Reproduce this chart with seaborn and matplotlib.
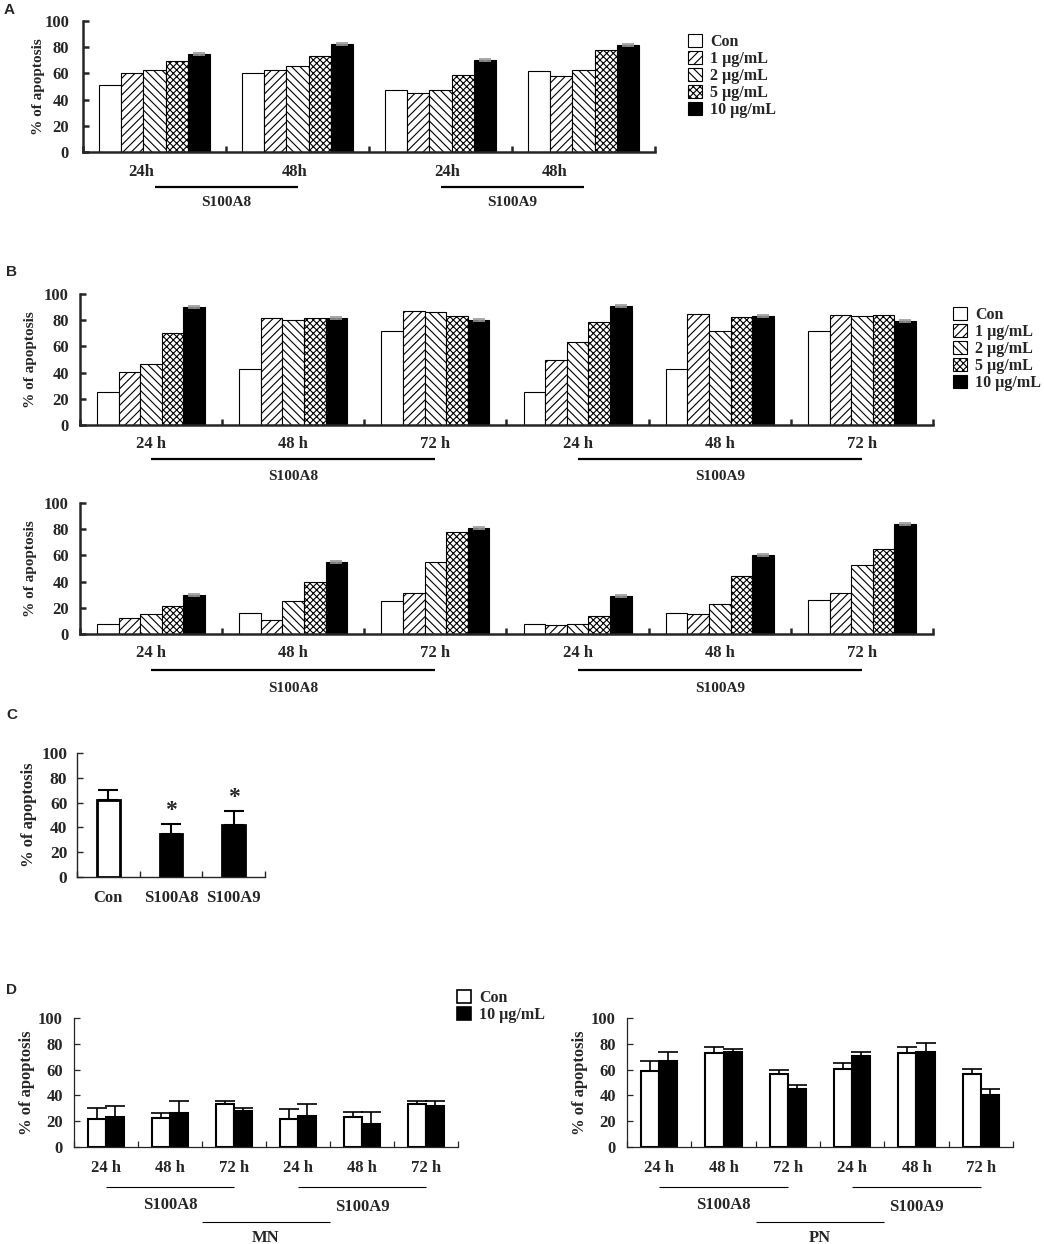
import matplotlib.pyplot as plt
import matplotlib.patches as mpatches
import numpy as np
import pandas as pd
import seaborn as sns

# ---- values ----
conc_labels = ['Con', '1 µg/mL', '2 µg/mL', '5 µg/mL', '10 µg/mL']
conc_colors = ['white', 'white', 'white', 'white', 'black']
conc_hatches = ['', '////', '\\\\\\\\', 'xxxxx', '']

# A: S100A8 24h/48h, S100A9 24h/48h
groups_a = ['S100A8 24h', 'S100A8 48h', 'S100A9 24h', 'S100A9 48h']
ticks_a = ['24h', '48h', '24h', '48h']
a_con = [51, 60.5, 47.5, 61.5]
a_1 = [60.5, 62.5, 45, 58]
a_2 = [62.5, 65.5, 47.5, 62.5]
a_5 = [69.5, 73, 58.5, 78]
a_10 = [74.5, 82.5, 70.5, 82]
a_err10 = [0.8, 0.8, 0.8, 0.8]

# B (upper and lower): S100A8 24/48/72 h, S100A9 24/48/72 h
groups_b = ['S100A8 24 h', 'S100A8 48 h', 'S100A8 72 h',
            'S100A9 24 h', 'S100A9 48 h', 'S100A9 72 h']
ticks_b = ['24 h', '48 h', '72 h', '24 h', '48 h', '72 h']
b1_con = [25.5, 42.5, 72, 25.5, 42.5, 72]
b1_1 = [40.5, 81.5, 87, 49.5, 84.5, 84]
b1_2 = [46.5, 80, 86.5, 63, 72, 83.5]
b1_5 = [70, 81.5, 83.5, 79, 82.5, 84]
b1_10 = [90, 81.5, 80, 90.5, 83, 79.5]
b1_err10 = [0.8] * 6

b2_con = [7.7, 16.3, 25.5, 7.7, 16.3, 26]
b2_1 = [12.5, 10.7, 31.4, 6.9, 15, 31.3]
b2_2 = [15.5, 25.5, 54.8, 7.9, 23.2, 52.7]
b2_5 = [21, 39.7, 77.5, 14, 44.4, 65]
b2_10 = [29.8, 54.8, 81, 29.2, 60.3, 84]
b2_err10 = [0.8] * 6

# C
cats_c = ['Con', 'S100A8', 'S100A9']
vals_c = [62, 34.3, 42]
err_c = [8, 8.4, 11.3]
colors_c = ['white', 'black', 'black']

# D (MN left, PN right)
d_labels = ['Con', '10 µg/mL']
d_colors = ['white', 'black']
mn_con = [22, 22.6, 33.2, 22, 23.4, 33.2]
mn_con_err = [8.3, 3.9, 2.6, 7.5, 3.9, 2.6]
mn_10 = [22.9, 26, 28, 24.2, 18.2, 31.9]
mn_10_err = [8.8, 9.8, 2.4, 8.8, 9.1, 3.9]
pn_con = [59, 72.6, 56.4, 60.3, 72.6, 56.4]
pn_con_err = [7.7, 4.8, 3.1, 5.1, 4.8, 3.9]
pn_10 = [66.7, 73.6, 44.9, 70.5, 73.8, 40.5]
pn_10_err = [6.9, 2, 3, 3.1, 7, 4.4]

W, H = 1044, 1244

sns.set_theme(style='ticks')
plt.rcParams['font.family'] = ['Liberation Serif', 'DejaVu Serif']
plt.rcParams['font.weight'] = 'bold'
plt.rcParams['axes.labelweight'] = 'bold'
plt.rcParams['hatch.linewidth'] = 0.8
plt.rcParams['hatch.color'] = 'black'

fig = plt.figure(figsize=(W / 100, H / 100), dpi=100)


def add_axes(l, r, t, b):
    ax = fig.add_axes([l / W, 1 - b / H, (r - l) / W, (b - t) / H])
    ax._px = (l, r, t, b)
    return ax


def yfrac(ax, ypx):
    l, r, t, b = ax._px
    return (b - ypx) / (b - t)


def style_axes(ax, n, lw, ylab_right, ylab_size, tick_size, tick_pad, tick_len):
    l, r, t, b = ax._px
    sns.despine(ax=ax)
    for s in ['left', 'bottom']:
        ax.spines[s].set_linewidth(lw)
    ax.set_xlim(-0.5, n - 0.5)
    ax.set_ylim(0, 100)
    ax.set_yticks(range(0, 101, 20))
    ax.set_xticks(np.arange(n + 1) - 0.5)
    ax.set_xticklabels([])
    ax.set_xlabel('')
    ax.tick_params(axis='y', direction='in', length=tick_len, width=lw,
                   labelsize=tick_size, pad=tick_pad)
    ax.tick_params(axis='x', direction='in', length=tick_len, width=lw)
    for lab in ax.get_yticklabels():
        lab.set_fontweight('bold')
    ax.set_ylabel('% of apoptosis', fontsize=ylab_size, fontweight='bold')
    ax.yaxis.set_label_coords((ylab_right - l) / (r - l), 0.5)


def conc_panel(ax, groups, series, err10, width):
    rows = []
    for c, vals in zip(conc_labels, series):
        for g, v in zip(groups, vals):
            rows.append({'group': g, 'conc': c, 'value': v})
    df = pd.DataFrame(rows)
    sns.barplot(data=df, x='group', y='value', hue='conc', order=groups,
                hue_order=conc_labels, palette=dict(zip(conc_labels, conc_colors)),
                saturation=1, edgecolor='black', linewidth=0.8, width=width,
                errorbar=None, legend=False, ax=ax)
    for cont, hatch in zip(ax.containers, conc_hatches):
        for p in cont:
            p.set_hatch(hatch)
    last = ax.containers[-1]
    xs = [p.get_x() + p.get_width() / 2 for p in last]
    ys = [p.get_height() for p in last]
    ax.errorbar(xs, ys, yerr=err10, fmt='none', ecolor='0.6', elinewidth=1,
                capsize=4, capthick=1.2, zorder=5)


def bracket(ax, x0, x1, ypx, lw):
    tr = ax.get_xaxis_transform()
    y = yfrac(ax, ypx)
    ax.plot([x0, x1], [y, y], color='black', lw=lw, transform=tr,
            clip_on=False, solid_capstyle='butt')


def label(ax, x, ypx, s, size):
    tr = ax.get_xaxis_transform()
    ax.text(x, yfrac(ax, ypx), s, transform=tr, ha='center', va='center',
            fontsize=size, fontweight='bold')


def conc_legend(xpx, ypx):
    handles = [mpatches.Patch(facecolor=c, edgecolor='black', hatch=h, lw=0.8)
               for c, h in zip(conc_colors, conc_hatches)]
    fig.legend(handles, conc_labels, loc='upper left',
               bbox_to_anchor=(xpx / W, 1 - ypx / H), frameon=False,
               fontsize=11.5, handlelength=0.9, handleheight=0.9,
               handletextpad=0.5, labelspacing=0.05, borderaxespad=0,
               borderpad=0)


def panel_letter(xpx, ypx, s):
    fig.text(xpx / W, 1 - ypx / H, s, family='Liberation Sans',
             fontweight='bold', fontsize=11, ha='left', va='center')


# ---- A ----
panel_letter(4, 10, 'A')
ax_a = add_axes(83, 655, 21, 152)
conc_panel(ax_a, groups_a, [a_con, a_1, a_2, a_5, a_10], a_err10, 0.78)
style_axes(ax_a, 4, 1.8, 45, 11, 12, 10, 4)
for x, s in zip([-0.09, 0.98, 2.05, 2.8], ticks_a):
    label(ax_a, x, 172, s, 12)
bracket(ax_a, 0, 1, 187, 1.6)
bracket(ax_a, 2, 3, 187, 1.6)
label(ax_a, 0.5, 203, 'S100A8', 11)
label(ax_a, 2.5, 203, 'S100A9', 11)
conc_legend(688, 34)

# ---- B upper ----
panel_letter(6, 272, 'B')
ax_b1 = add_axes(80, 933, 294, 425)
conc_panel(ax_b1, groups_b, [b1_con, b1_1, b1_2, b1_5, b1_10], b1_err10, 0.76)
style_axes(ax_b1, 6, 1.8, 37, 11, 12, 8, 4)
for i, s in enumerate(ticks_b):
    label(ax_b1, i, 444, s, 12)
bracket(ax_b1, 0, 2, 459, 1.6)
bracket(ax_b1, 3, 5, 459, 1.6)
label(ax_b1, 1, 476, 'S100A8', 11)
label(ax_b1, 4, 476, 'S100A9', 11)
conc_legend(953, 307)

# ---- B lower ----
ax_b2 = add_axes(80, 933, 503, 634)
conc_panel(ax_b2, groups_b, [b2_con, b2_1, b2_2, b2_5, b2_10], b2_err10, 0.76)
style_axes(ax_b2, 6, 1.8, 37, 11, 12, 8, 4)
for i, s in enumerate(ticks_b):
    label(ax_b2, i, 653, s, 12)
bracket(ax_b2, 0, 2, 670, 1.6)
bracket(ax_b2, 3, 5, 670, 1.6)
label(ax_b2, 1, 688, 'S100A8', 11)
label(ax_b2, 4, 688, 'S100A9', 11)

# ---- C ----
panel_letter(6, 715, 'C')
ax_c = add_axes(77, 265, 753, 877)
sns.barplot(x=cats_c, y=vals_c, hue=cats_c, palette=colors_c, saturation=1,
            edgecolor='black', linewidth=2, width=0.36, legend=False, ax=ax_c)
xs_c = [p.get_x() + p.get_width() / 2 for p in ax_c.patches]
ax_c.errorbar(xs_c, vals_c, yerr=[np.zeros(3), err_c], fmt='none',
              ecolor='black', elinewidth=1.5, capsize=7, capthick=1.5, zorder=5)
for x, v, e, c in zip(xs_c, vals_c, err_c, cats_c):
    if c != 'Con':
        ax_c.text(x, v + e + 11, '*', ha='center', va='center', fontsize=17,
                  fontweight='bold')
style_axes(ax_c, 3, 1.0, 37, 12, 12.5, 7, 4)
for i, s in enumerate(cats_c):
    label(ax_c, i, 898, s, 12)

# ---- D ----
panel_letter(6, 990, 'D')


def d_panel(ax, con, con_err, hi, hi_err, name, ylab_right):
    rows = []
    for lab, vals in zip(d_labels, [con, hi]):
        for g, v in zip(groups_b, vals):
            rows.append({'group': g, 'conc': lab, 'value': v})
    df = pd.DataFrame(rows)
    sns.barplot(data=df, x='group', y='value', hue='conc', order=groups_b,
                hue_order=d_labels, palette=dict(zip(d_labels, d_colors)),
                saturation=1, edgecolor='black', linewidth=1.5, width=0.56,
                errorbar=None, legend=False, ax=ax)
    for cont, errs in zip(ax.containers, [con_err, hi_err]):
        xs = [p.get_x() + p.get_width() / 2 for p in cont]
        ys = [p.get_height() for p in cont]
        ax.errorbar(xs, ys, yerr=[np.zeros(len(errs)), errs], fmt='none',
                    ecolor='black', elinewidth=1.2, capsize=7, capthick=1.2,
                    zorder=5)
    style_axes(ax, 6, 0.9, ylab_right, 12, 12, 8, 4)
    for i, s in enumerate(ticks_b):
        label(ax, i, 1168, s, 12)
    bracket(ax, 0, 2, 1187, 0.8)
    bracket(ax, 3, 5, 1187, 0.8)
    label(ax, 1, 1205, 'S100A8', 12)
    label(ax, 4, 1207, 'S100A9', 12)
    bracket(ax, 1.5, 3.5, 1222, 0.8)
    label(ax, 2.5, 1238, name, 12)


ax_d1 = add_axes(74, 458, 1018, 1147)
d_panel(ax_d1, mn_con, mn_con_err, mn_10, mn_10_err, 'MN', 35)
ax_d2 = add_axes(627, 1013, 1018, 1147)
d_panel(ax_d2, pn_con, pn_con_err, pn_10, pn_10_err, 'PN', 588)

d_handles = [mpatches.Patch(facecolor=c, edgecolor='black', lw=1.2) for c in d_colors]
fig.legend(d_handles, d_labels, loc='upper left',
           bbox_to_anchor=(457 / W, 1 - 990 / H), frameon=False, fontsize=11.5,
           handlelength=0.9, handleheight=0.9, handletextpad=0.5,
           labelspacing=0.05, borderaxespad=0, borderpad=0)

fig.savefig('out.png', dpi=100, facecolor='white')
